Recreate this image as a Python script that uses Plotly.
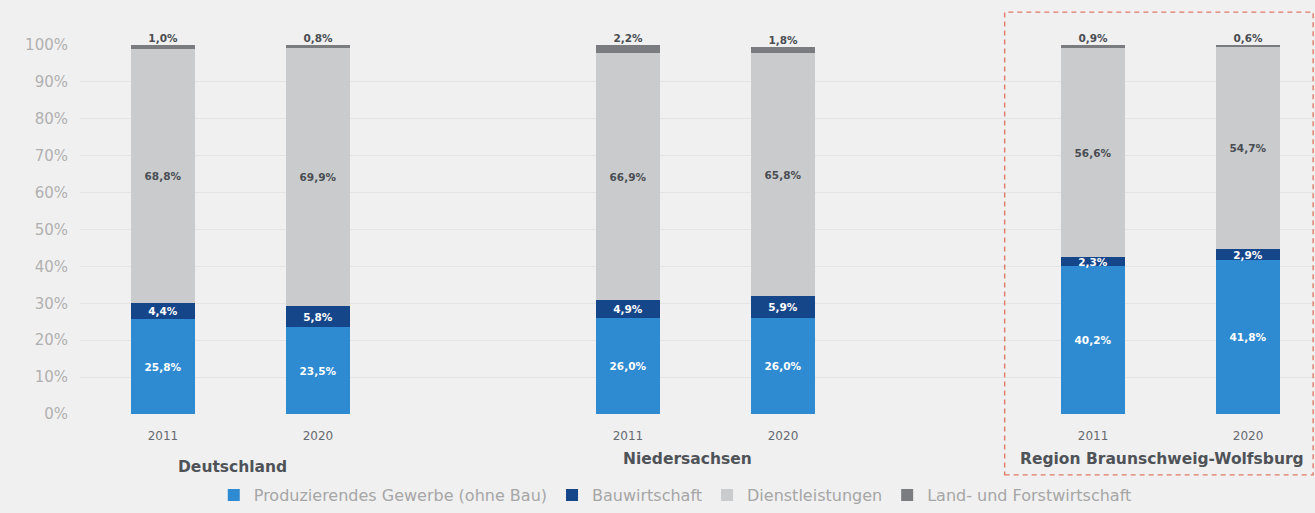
import plotly.graph_objects as go

# Bar positions: two years per region, with a gap between regions
regions = ["Deutschland", "Niedersachsen", "Region Braunschweig-Wolfsburg"]
years = ["2011", "2020", "2011", "2020", "2011", "2020"]
x_pos = [0, 1, 3, 4, 6, 7]

# Shares of employment by sector (percent)
produzierendes = [25.8, 23.5, 26.0, 26.0, 40.2, 41.8]
bauwirtschaft = [4.4, 5.8, 4.9, 5.9, 2.3, 2.9]
dienstleistungen = [68.8, 69.9, 66.9, 65.8, 56.6, 54.7]
land_forst = [1.0, 0.8, 2.2, 1.8, 0.9, 0.6]

series = [
    ("Produzierendes Gewerbe (ohne Bau)", produzierendes, "#2f8bd1", "white"),
    ("Bauwirtschaft", bauwirtschaft, "#16468a", "white"),
    ("Dienstleistungen", dienstleistungen, "#c9cbcd", "#4a4d52"),
    ("Land- und Forstwirtschaft", land_forst, "#7a7c7f", "#4a4d52"),
]

FONT = "DejaVu Sans"

def fmt(v):
    return f"{v:.1f}".replace(".", ",") + "%"

fig = go.Figure()
for i, (name, vals, color, tcolor) in enumerate(series):
    last = i == len(series) - 1
    fig.add_trace(go.Bar(
        x=x_pos, y=vals, name=name, width=0.41,
        marker=dict(color=color, line=dict(width=0)),
        text=None if last else [f"<b>{fmt(v)}</b>" for v in vals],
        textposition="inside",
        insidetextanchor="middle",
        textfont=dict(color=tcolor, size=10.5, family=FONT),
        hoverinfo="skip",
    ))

# Labels for the thin top segment, placed just above each stack
totals = [round(a + b + c + d, 1) for a, b, c, d in
          zip(produzierendes, bauwirtschaft, dienstleistungen, land_forst)]
fig.add_trace(go.Scatter(
    x=x_pos, y=totals, mode="text",
    text=[f"<b>{fmt(v)}</b>" for v in land_forst],
    textposition="top center",
    textfont=dict(color="#4a4d52", size=10.5, family=FONT),
    showlegend=False, cliponaxis=False, hoverinfo="skip",
))

# Region names under the year labels
label_x = [0.448, 3.387, 6.448]
label_y = [-0.1436, -0.1220, -0.1220]
for name, lx, ly in zip(regions, label_x, label_y):
    fig.add_annotation(x=lx, y=ly, xref="x", yref="paper", text=f"<b>{name}</b>",
                       showarrow=False, yanchor="middle",
                       font=dict(size=15.5, color="#4f5358", family=FONT))

# Dashed frame around the focus region
fig.add_shape(type="rect", xref="x", yref="paper", x0=5.43, x1=7.42, y0=-0.165, y1=1.089,
              line=dict(color="#e07a66", width=1.4, dash="5px,4px"), layer="above")

fig.update_layout(
    width=1315, height=513,
    margin=dict(l=80, r=0, t=45, b=99, autoexpand=False),
    paper_bgcolor="#f0f0f0", plot_bgcolor="#f0f0f0",
    barmode="stack",
    bargap=0,
    uniformtext=dict(minsize=10.5, mode="show"),
    font=dict(family=FONT, color="#555a60"),
    xaxis=dict(range=[-0.535, 7.432], tickvals=x_pos, ticktext=years,
               showgrid=False, zeroline=False, showline=False,
               tickfont=dict(size=12, color="#666a70"), ticklen=0,
               ticklabelstandoff=13),
    yaxis=dict(range=[0, 100], dtick=10, ticksuffix="%",
               gridcolor="#e4e4e4", gridwidth=1, zeroline=False,
               tickfont=dict(size=15, color="#b0b0b0"), ticklabelstandoff=11),
    legend=dict(orientation="h", x=0.482, xanchor="center", y=-0.2195, yanchor="middle",
                font=dict(size=16, color="#a6a6a6"), traceorder="normal",
                itemwidth=30, bgcolor="rgba(0,0,0,0)"),
    showlegend=True,
)

fig.write_html("out.html")
